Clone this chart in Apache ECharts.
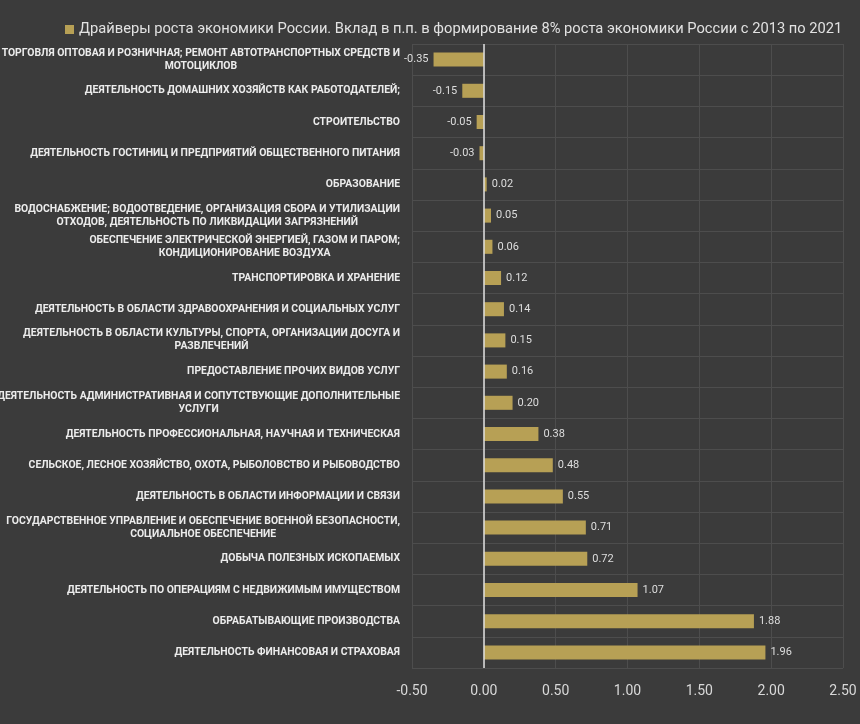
<!DOCTYPE html>
<html>
<head>
<meta charset="utf-8">
<script src="https://cdn.jsdelivr.net/npm/echarts@6/dist/echarts.min.js"></script>
<style>
html,body{margin:0;padding:0;background:#3b3b3b;}
#c{width:860px;height:724px;}
</style>
</head>
<body>
<div id="c"></div>
<script>
const seriesName = 'Драйверы роста экономики России. Вклад в п.п. в формирование 8% роста экономики России с 2013 по 2021';
const categories = [
  'ТОРГОВЛЯ ОПТОВАЯ И РОЗНИЧНАЯ; РЕМОНТ АВТОТРАНСПОРТНЫХ СРЕДСТВ И\nМОТОЦИКЛОВ',
  'ДЕЯТЕЛЬНОСТЬ ДОМАШНИХ ХОЗЯЙСТВ КАК РАБОТОДАТЕЛЕЙ;',
  'СТРОИТЕЛЬСТВО',
  'ДЕЯТЕЛЬНОСТЬ ГОСТИНИЦ И ПРЕДПРИЯТИЙ ОБЩЕСТВЕННОГО ПИТАНИЯ',
  'ОБРАЗОВАНИЕ',
  'ВОДОСНАБЖЕНИЕ; ВОДООТВЕДЕНИЕ, ОРГАНИЗАЦИЯ СБОРА И УТИЛИЗАЦИИ\nОТХОДОВ, ДЕЯТЕЛЬНОСТЬ ПО ЛИКВИДАЦИИ ЗАГРЯЗНЕНИЙ',
  'ОБЕСПЕЧЕНИЕ ЭЛЕКТРИЧЕСКОЙ ЭНЕРГИЕЙ, ГАЗОМ И ПАРОМ;\nКОНДИЦИОНИРОВАНИЕ ВОЗДУХА',
  'ТРАНСПОРТИРОВКА И ХРАНЕНИЕ',
  'ДЕЯТЕЛЬНОСТЬ В ОБЛАСТИ ЗДРАВООХРАНЕНИЯ И СОЦИАЛЬНЫХ УСЛУГ',
  'ДЕЯТЕЛЬНОСТЬ В ОБЛАСТИ КУЛЬТУРЫ, СПОРТА, ОРГАНИЗАЦИИ ДОСУГА И\nРАЗВЛЕЧЕНИЙ',
  'ПРЕДОСТАВЛЕНИЕ ПРОЧИХ ВИДОВ УСЛУГ',
  'ДЕЯТЕЛЬНОСТЬ АДМИНИСТРАТИВНАЯ И СОПУТСТВУЮЩИЕ ДОПОЛНИТЕЛЬНЫЕ\nУСЛУГИ',
  'ДЕЯТЕЛЬНОСТЬ ПРОФЕССИОНАЛЬНАЯ, НАУЧНАЯ И ТЕХНИЧЕСКАЯ',
  'СЕЛЬСКОЕ, ЛЕСНОЕ ХОЗЯЙСТВО, ОХОТА, РЫБОЛОВСТВО И РЫБОВОДСТВО',
  'ДЕЯТЕЛЬНОСТЬ В ОБЛАСТИ ИНФОРМАЦИИ И СВЯЗИ',
  'ГОСУДАРСТВЕННОЕ УПРАВЛЕНИЕ И ОБЕСПЕЧЕНИЕ ВОЕННОЙ БЕЗОПАСНОСТИ,\nСОЦИАЛЬНОЕ ОБЕСПЕЧЕНИЕ',
  'ДОБЫЧА ПОЛЕЗНЫХ ИСКОПАЕМЫХ',
  'ДЕЯТЕЛЬНОСТЬ ПО ОПЕРАЦИЯМ С НЕДВИЖИМЫМ ИМУЩЕСТВОМ',
  'ОБРАБАТЫВАЮЩИЕ ПРОИЗВОДСТВА',
  'ДЕЯТЕЛЬНОСТЬ ФИНАНСОВАЯ И СТРАХОВАЯ'
];
const values = [-0.35, -0.15, -0.05, -0.03, 0.02, 0.05, 0.06, 0.12, 0.14, 0.15, 0.16, 0.20, 0.38, 0.48, 0.55, 0.71, 0.72, 1.07, 1.88, 1.96];
const xTickMin = -0.5, xTickMax = 2.5, xTickStep = 0.5;

const barColor = '#b7a055';
const chart = echarts.init(document.getElementById('c'));
chart.setOption({
  backgroundColor: '#3b3b3b',
  animation: false,
  legend: {
    top: 17, left: 60,
    itemWidth: 9, itemHeight: 9, itemGap: 6,
    icon: 'rect',
    textStyle: { color: '#e2e2e2', fontSize: 14.7, fontFamily: 'Roboto' },
    data: [seriesName]
  },
  grid: { left: 412, right: 17, top: 44, bottom: 56, containLabel: false, outerBoundsMode: 'none' },
  xAxis: {
    type: 'value', min: xTickMin, max: xTickMax, interval: xTickStep,
    axisLine: { show: false }, axisTick: { show: false },
    axisLabel: { color: '#d8d8d8', fontSize: 14, fontFamily: 'Roboto', margin: 16,
      formatter: v => v.toFixed(2) },
    splitLine: { lineStyle: { color: '#4d4d4d', width: 1 } }
  },
  yAxis: {
    type: 'category', inverse: true, data: categories,
    axisLine: { show: false }, axisTick: { show: false },
    axisLabel: {
      margin: 12, interval: 0,
      formatter: v => '{c|' + v + '}',
      rich: { c: { align: 'center', color: '#ececec', fontSize: 10.4, fontWeight: 'bold', fontFamily: 'Roboto', lineHeight: 13 } }
    },
    splitLine: { show: true, lineStyle: { color: '#4d4d4d', width: 1 } }
  },
  series: [{
    name: seriesName, type: 'bar',
    barCategoryGap: '55%',
    itemStyle: { color: barColor },
    data: values.map(v => ({
      value: v,
      label: { position: v < 0 ? 'left' : 'right' }
    })),
    label: {
      show: true, distance: 5, color: '#dedede', fontSize: 11, fontFamily: 'Roboto',
      formatter: p => p.value.toFixed(2)
    },
    markLine: {
      silent: true, symbol: 'none', label: { show: false },
      lineStyle: { color: '#e0e0e0', type: 'solid', width: 1.5 },
      data: [{ xAxis: 0 }]
    }
  }]
});
</script>
</body>
</html>
